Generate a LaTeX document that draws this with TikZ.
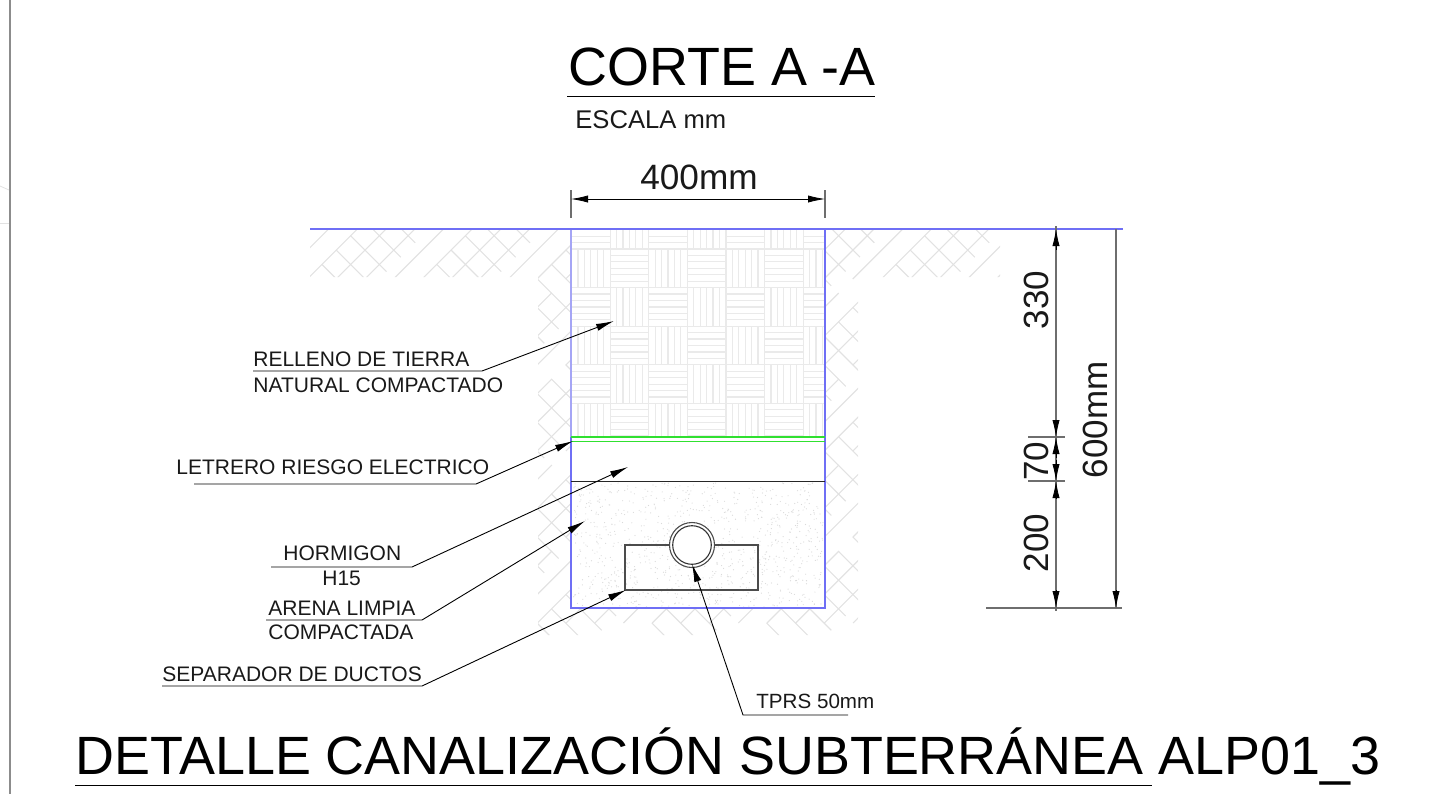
\documentclass[tikz,border=0pt]{standalone}
\usepackage{fontspec}
\setmainfont{Liberation Sans}
\usetikzlibrary{arrows.meta}
\definecolor{hatchgray}{HTML}{E2E2E2}
\definecolor{fillgray}{HTML}{EAEAEA}
\definecolor{sandgray}{HTML}{DADADA}
\definecolor{bluel}{HTML}{6F6FF5}
\definecolor{bluep}{HTML}{A5A5F5}
\definecolor{greenl}{HTML}{30E030}
\definecolor{dimgray}{HTML}{6E6E6E}
\tikzset{
  earth/.style={draw=hatchgray,line width=0.55pt},
  parq/.style={draw=fillgray,line width=0.6pt},
  blueline/.style={draw=bluel,line width=0.8pt},
  greenline/.style={draw=greenl,line width=0.55pt},
  blackline/.style={draw=black!85,line width=0.55pt},
  dim/.style={draw=dimgray,line width=0.6pt},
  dimend/.style={-{Latex[length=8.5pt,width=3.6pt]},draw=black,line width=0.4pt},
  leader/.style={draw=black,line width=0.45pt},
  leadarrow/.style={leader,-{Latex[length=9pt,width=3.6pt]}},
  lab/.style={anchor=base west,inner sep=0pt,font=\fontsize{10.5}{12}\selectfont,text=black!90},
  bigt/.style={anchor=base west,inner sep=0pt,font=\fontsize{26.95}{32}\selectfont,text=black},
  dimt/.style={anchor=center,inner sep=0pt,font=\fontsize{17.5}{20}\selectfont,text=black!90,rotate=90},
}
\begin{document}
\begin{tikzpicture}[x=0.5pt,y=-0.5pt]
\useasboundingbox (0,0) rectangle (1439,794);
% frame edge
\draw[draw=black!45,line width=1pt] (10,0) -- (10,794);
\draw[draw=hatchgray,line width=0.4pt] (0,186) -- (9,190);
\draw[draw=hatchgray,line width=0.4pt] (0,223) -- (9,223);
% earth hatch
\begin{scope}
\clip (310,229) rectangle (571,277) (538,277) rectangle (571,635) (538,608) rectangle (858,635)
      (825,229) rectangle (1000,277) (825,277) rectangle (858,635);
\foreach \kk in {0,...,50}{
  \pgfmathsetmacro{\cc}{529+28.7*\kk}
  \pgfmathsetmacro{\ss}{mod(\kk*28.7,86)}
  \foreach \mm in {0,...,12}{
    \pgfmathsetmacro{\xa}{250+86*\mm+\ss}
    \draw[earth] (\xa,\cc-\xa) -- (\xa+72,\cc-\xa-72);
  }
}
\foreach \kk in {0,...,50}{
  \pgfmathsetmacro{\cc}{-660+28.7*\kk}
  \pgfmathsetmacro{\ss}{mod(\kk*14.35,57.4)}
  \foreach \mm in {0,...,14}{
    \pgfmathsetmacro{\xa}{250+57.4*\mm+\ss}
    \draw[earth] (\xa,\xa-\cc) -- (\xa+36,\xa-\cc+36);
  }
}
\end{scope}
% parquet fill
\begin{scope}
\clip (571,229) rectangle (825,437);
\foreach \ii in {-1,...,6}{
 \foreach \jj in {-1,...,5}{
  \pgfmathsetmacro{\xl}{571.5+38.6*\ii}
  \pgfmathsetmacro{\yt}{249+38.6*\jj}
  \pgfmathtruncatemacro{\parity}{mod(\ii+\jj+10,2)}
  \draw[parq] (\xl,\yt) rectangle (\xl+38.6,\yt+38.6);
  \foreach \tt in {1,...,5}{
    \ifnum\parity=1
      \draw[parq] (\xl,\yt+6.43*\tt) -- (\xl+38.6,\yt+6.43*\tt);
    \else
      \draw[parq] (\xl+6.43*\tt,\yt) -- (\xl+6.43*\tt,\yt+38.6);
    \fi
  }
 }
}
\end{scope}
% sand
\pgfmathsetseed{4711}
\foreach \nn in {1,...,950}{
  \pgfmathsetmacro{\sx}{573+rnd*250}
  \pgfmathsetmacro{\sy}{483+rnd*124}
  \fill[sandgray] (\sx,\sy) circle (0.6);
}
% trench
\coordinate (gl) at (310,229);
\coordinate (gr) at (1123,229);
\coordinate (tl) at (571,229);
\coordinate (tr) at (825,229);
\coordinate (ml) at (571,437);
\coordinate (mr) at (825,437);
\coordinate (bl) at (571,608);
\coordinate (br) at (825,608);
\draw[draw=bluep,line width=0.6pt] (tl) -- (ml);
\draw[blueline,line width=0.65pt] (ml) -- (bl) -- (br) -- (mr) -- (tr);
\draw[blueline] (gl) -- (gr);
\draw[greenline] (ml) -- (mr);
\draw[greenline] (571,441.5) -- (825,441.5);
\draw[blackline] (571,481.5) -- (825,481.5);
% separator and duct
\coordinate (sa) at (669.5,545);
\coordinate (sb) at (625,545);
\coordinate (sc) at (625,590);
\coordinate (sd) at (758,590);
\coordinate (se) at (758,545);
\coordinate (sf) at (714.5,545);
\draw[blackline,draw=black!70] (sa) -- (sb) -- (sc) -- (sd) -- (se) -- (sf);
\draw[blackline,draw=black!70,fill=white] (692,545) circle (22.5);
\draw[blackline,draw=black!80] (692,545) circle (19.3);
% titles
\node[bigt] (t1) at (568,85) {CORTE A -A};
\draw[leader,line width=0.5pt] (567,96) -- (875,96);
\node[anchor=base west,inner sep=0pt,font=\fontsize{12.8}{14}\selectfont,text=black!90] (t2) at (575,128) {ESCALA mm};
\node[bigt] (t3) at (75,774) {DETALLE CANALIZACIÓN SUBTERRÁNEA ALP01\_3};
\draw[leader,line width=0.5pt] (75,785) -- (1152,785);
% top dimension
\node[anchor=center,inner sep=0pt,font=\fontsize{17.6}{20}\selectfont,text=black!90] (d400) at (699,177) {400mm};
\coordinate (dl) at (571,199);
\coordinate (dr) at (825,199);
\draw[dim] (571,190) -- (571,218);
\draw[dim] (825,190) -- (825,218);
\draw[dimend,{Latex[length=8.5pt,width=3.6pt]}-{Latex[length=8.5pt,width=3.6pt]}] (dl) -- (dr);
% right dimensions
\coordinate (r0) at (1056,229);
\coordinate (r1) at (1056,437);
\coordinate (r2) at (1056,481);
\coordinate (r3) at (1056,608);
\coordinate (q0) at (1116,229);
\coordinate (q3) at (1116,608);
\draw[dim] (1028,437) -- (1065,437);
\draw[dim] (1028,481) -- (1065,481);
\draw[dim] (986,608) -- (1122,608);
\draw[dim] (1056,226) -- (1056,611);
\draw[dim] (q0) -- (q3);
\draw[dimend] (1056,250) -- (r0);
\draw[dimend] (1056,420) -- (r1);
\draw[dimend] (1056,458) -- (r1);
\draw[dimend] (1056,460) -- (r2);
\draw[dimend] (1056,498) -- (r2);
\draw[dimend] (1056,590) -- (r3);
\draw[dimend] (1116,590) -- (q3);
\node[dimt] (d330) at (1036,300) {330};
\node[dimt] (d70) at (1036,461) {70};
\node[dimt] (d200) at (1036,543) {200};
\node[dimt] (d600) at (1095,420) {600mm};
% labels
\node[lab] (l1a) at (253,366) {RELLENO DE TIERRA};
\node[lab] (l1b) at (253,392) {NATURAL COMPACTADO};
\node[lab] (l2) at (176,474) {LETRERO RIESGO ELECTRICO};
\node[lab] (l3a) at (283,560) {HORMIGON};
\node[lab] (l3b) at (322,585) {H15};
\node[lab] (l4a) at (268,615) {ARENA LIMPIA};
\node[lab] (l4b) at (268,639) {COMPACTADA};
\node[lab] (l5) at (162,681) {SEPARADOR DE DUCTOS};
\node[lab,font=\fontsize{10.3}{12}\selectfont] (l6) at (756,708) {TPRS 50mm};
% leaders
\coordinate (u1) at (253,371); \coordinate (k1) at (482,371); \coordinate (a1) at (614,321);
\coordinate (u2) at (194,484); \coordinate (k2) at (476,484); \coordinate (a2) at (573,441);
\coordinate (u3) at (271,567); \coordinate (k3) at (412,567); \coordinate (a3) at (628,467);
\coordinate (u4) at (266,620); \coordinate (k4) at (422,620); \coordinate (a4) at (585,521);
\coordinate (u5) at (162,686); \coordinate (k5) at (422,686); \coordinate (a5) at (626,590);
\coordinate (u6) at (848,715); \coordinate (k6) at (743,715); \coordinate (a6) at (692,564);
\foreach \ii in {1,...,6}{
  \draw[leadarrow] (u\ii) -- (k\ii) -- (a\ii);
}
\end{tikzpicture}
\end{document}
